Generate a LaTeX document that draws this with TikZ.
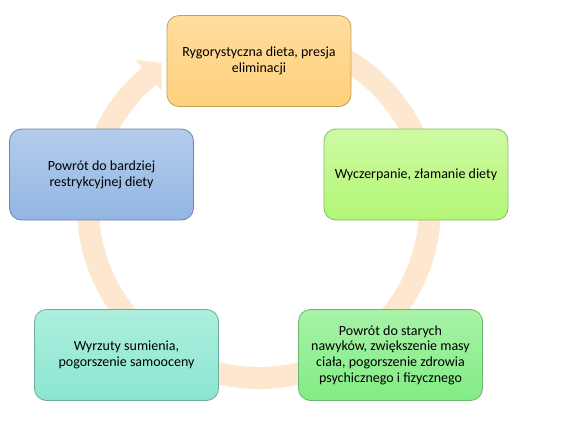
\documentclass[tikz,border=0pt]{standalone}
\usepackage{fontspec}
\setmainfont{Carlito}
\usetikzlibrary{calc, positioning, shapes}

\definecolor{ringpeach}{RGB}{253,232,207}
\definecolor{orangeT}{RGB}{255,221,158}
\definecolor{orangeB}{RGB}{255,209,122}
\definecolor{orangeD}{RGB}{196,160,96}
\definecolor{limeT}{RGB}{206,250,162}
\definecolor{limeB}{RGB}{178,246,118}
\definecolor{limeD}{RGB}{132,188,98}
\definecolor{greenT}{RGB}{168,242,168}
\definecolor{greenB}{RGB}{130,236,132}
\definecolor{greenD}{RGB}{108,180,110}
\definecolor{aquaT}{RGB}{174,238,222}
\definecolor{aquaB}{RGB}{138,230,208}
\definecolor{aquaD}{RGB}{108,170,158}
\definecolor{blueT}{RGB}{180,204,235}
\definecolor{blueB}{RGB}{146,182,226}
\definecolor{blueD}{RGB}{108,134,174}

\begin{document}
\begin{tikzpicture}[x=.75pt, y=.75pt,
		stage/.style={draw, line width=.6pt, rounded corners=9pt, minimum width=138pt, minimum height=68.25pt, align=center, font=\fontsize{10.5}{11.8}\selectfont}]
		\useasboundingbox (0,0) rectangle (567,437);
		\coordinate (ctr) at (259,230);
		% ring behind the boxes
		\draw[ringpeach, line width=16.5pt] (ctr) ++(70:128.25pt) arc[start angle=70, end angle=-230.5, radius=128.25pt];
		\begin{scope}
			\clip (0,0) rectangle (161.7,437);
			\fill[ringpeach] ($(ctr)+(130:144pt)$) -- ($(ctr)+(118:120pt)$) -- ($(ctr)+(130:112.5pt)$) -- cycle;
		\end{scope}
		\node[stage, draw=orangeD, top color=orangeT, bottom color=orangeB] (diet) at (259,376) {Rygorystyczna dieta, presja\\eliminacji};
		\node[stage, draw=limeD, top color=limeT, bottom color=limeB] (break) at (416,262.5) {Wyczerpanie, złamanie diety};
		\node[stage, draw=greenD, top color=greenT, bottom color=greenB] (relapse) at (390.5,82) {Powrót do starych\\nawyków, zwiększenie masy\\ciała, pogorszenie zdrowia\\psychicznego i fizycznego};
		\node[stage, draw=aquaD, top color=aquaT, bottom color=aquaB] (guilt) at (126.5,82) {Wyrzuty sumienia,\\pogorszenie samooceny};
		\node[stage, draw=blueD, top color=blueT, bottom color=blueB] (back) at (101.5,262.5) {Powrót do bardziej\\restrykcyjnej diety};
	\end{tikzpicture}
\end{document}
